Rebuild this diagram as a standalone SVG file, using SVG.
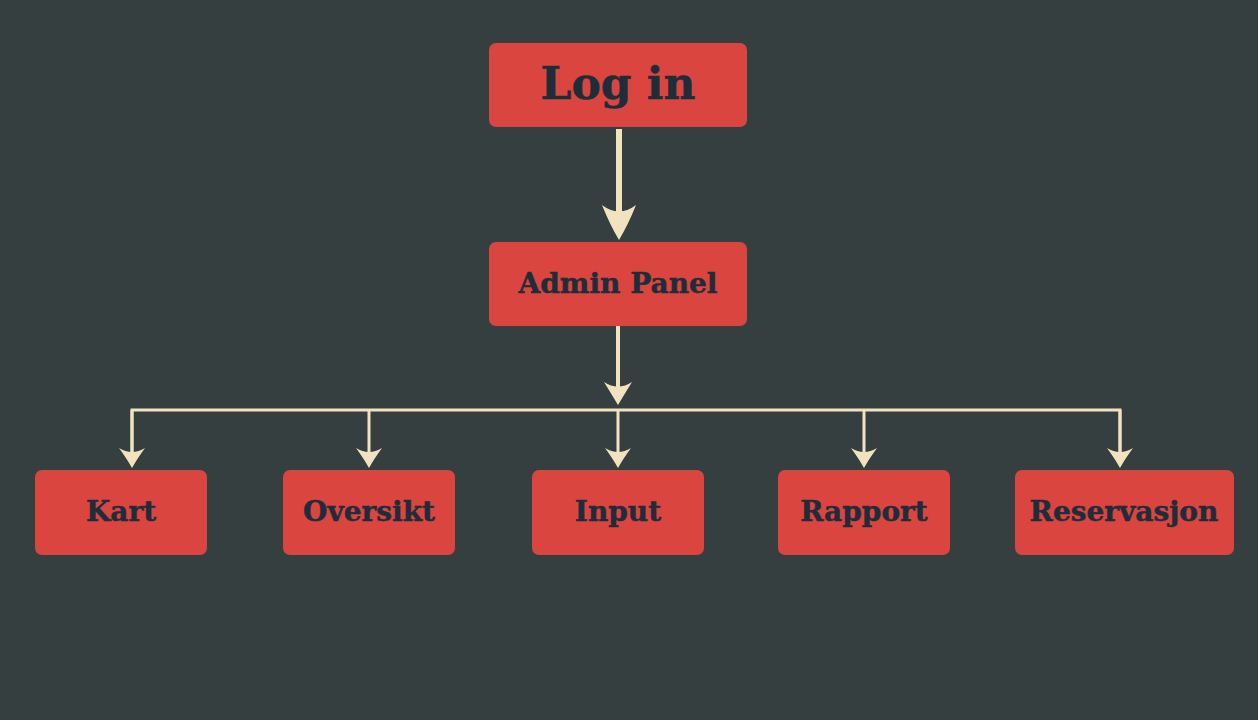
<svg xmlns="http://www.w3.org/2000/svg" width="1258" height="720" viewBox="0 0 1258 720">
<style>
.box{fill:#DA4540}
.lbl{font-family:"DejaVu Serif","Liberation Serif",serif;font-weight:bold;fill:#1E2D3A;stroke:#1E2D3A;stroke-width:0.5;text-anchor:middle}
.c{stroke:#F1E3C0;fill:none}
</style>
<defs>
<marker id="big" markerUnits="userSpaceOnUse" viewBox="-36 -18 36 36" markerWidth="36" markerHeight="36" refX="-14" refY="0" orient="auto">
<path d="M0,0 Q-15,-9 -35,-17 Q-22,0 -35,17 Q-15,9 0,0 Z" fill="#F1E3C0"/>
</marker>
<marker id="mid" markerUnits="userSpaceOnUse" viewBox="-24 -15 24 30" markerWidth="24" markerHeight="30" refX="-9" refY="0" orient="auto">
<path d="M0,0 Q-10,-6 -23,-14 Q-14,0 -23,14 Q-10,6 0,0 Z" fill="#F1E3C0"/>
</marker>
<marker id="sm" markerUnits="userSpaceOnUse" viewBox="-21 -14 21 28" markerWidth="21" markerHeight="28" refX="-8" refY="0" orient="auto">
<path d="M0,0 Q-9,-5 -20,-13 Q-12,0 -20,13 Q-9,5 0,0 Z" fill="#F1E3C0"/>
</marker>
</defs>
<rect width="1258" height="720" fill="#363F3F"/>
<g id="connectors">
<line class="c" x1="619" y1="129" x2="619" y2="226" stroke-width="6" marker-end="url(#big)"/>
<line class="c" x1="618" y1="326" x2="618" y2="396" stroke-width="4" marker-end="url(#mid)"/>
<polyline class="c" points="132,460 132,410 1120,410 1120,460" stroke-width="3"/>
<line class="c" x1="132" y1="410" x2="132" y2="460" stroke-width="3" marker-end="url(#sm)"/>
<line class="c" x1="369" y1="410" x2="369" y2="460" stroke-width="3" marker-end="url(#sm)"/>
<line class="c" x1="618" y1="410" x2="618" y2="460" stroke-width="3" marker-end="url(#sm)"/>
<line class="c" x1="864" y1="410" x2="864" y2="460" stroke-width="3" marker-end="url(#sm)"/>
<line class="c" x1="1120" y1="410" x2="1120" y2="460" stroke-width="3" marker-end="url(#sm)"/>
</g>
<g id="login">
<rect class="box" x="489" y="43" width="258" height="84" rx="7"/>
<text class="lbl" x="618" y="99" font-size="44">Log in</text>
</g>
<g id="admin">
<rect class="box" x="489" y="242" width="258" height="84" rx="7"/>
<text class="lbl" x="618" y="293" font-size="28">Admin Panel</text>
</g>
<g id="kart">
<rect class="box" x="35" y="470" width="172" height="85" rx="7"/>
<text class="lbl" x="121" y="521" font-size="28">Kart</text>
</g>
<g id="oversikt">
<rect class="box" x="283" y="470" width="172" height="85" rx="7"/>
<text class="lbl" x="369" y="521" font-size="28">Oversikt</text>
</g>
<g id="input">
<rect class="box" x="532" y="470" width="172" height="85" rx="7"/>
<text class="lbl" x="618" y="521" font-size="28">Input</text>
</g>
<g id="rapport">
<rect class="box" x="778" y="470" width="172" height="85" rx="7"/>
<text class="lbl" x="864" y="521" font-size="28">Rapport</text>
</g>
<g id="reservasjon">
<rect class="box" x="1015" y="470" width="219" height="85" rx="7"/>
<text class="lbl" x="1124" y="521" font-size="28">Reservasjon</text>
</g>
</svg>
